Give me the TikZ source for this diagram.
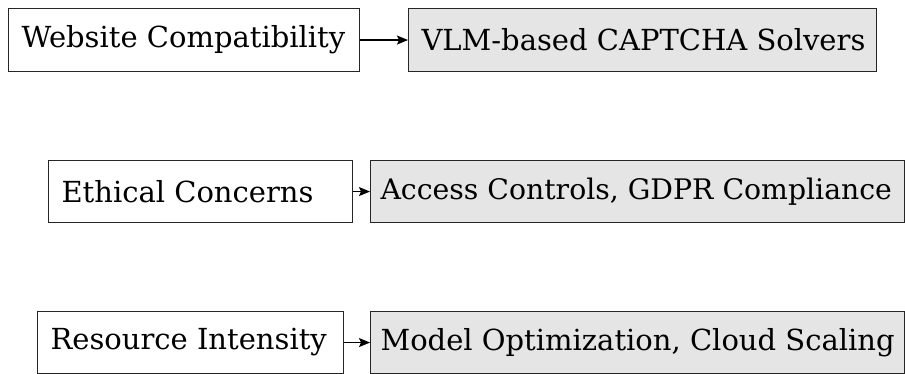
\documentclass[tikz,border=0pt]{standalone}
\usepackage{fontspec}
\setmainfont{DejaVu Serif}
\usetikzlibrary{arrows.meta}
% left-aligned label in a box of fixed width
\newcommand\flushlabel[2]{\makebox[#1][l]{#2}}
\begin{document}
\begin{tikzpicture}[x=1pt,y=-1pt,
  box/.style={draw=black!85, line width=1.1pt, rectangle, anchor=north west,
    inner ysep=0pt, inner xsep=13pt,
    font=\fontsize{29}{34}\selectfont},
  issue/.style={box, fill=white},
  fix/.style={box, fill=gray!20},
  link/.style={-{Stealth[length=11pt,width=9pt,inset=2pt]}, line width=1.3pt, black}]
\useasboundingbox (0,0) rectangle (905,374);
% challenge -> mitigation rows
\node[issue, minimum height=63pt] (c1) at (8,8) {\flushlabel{325pt}{Website Compatibility}};
\node[fix,   minimum height=63pt] (m1) at (408,8) {\flushlabel{442pt}{VLM-based CAPTCHA Solvers}};
\node[issue, minimum height=62pt] (c2) at (48,160) {\flushlabel{278pt}{Ethical Concerns}};
\node[fix,   minimum height=62pt, inner xsep=10pt] (m2) at (370,160)
  {\flushlabel{514pt}{\fontsize{28.3}{34}\selectfont Access Controls, GDPR Compliance}};
\node[issue, minimum height=62pt] (c3) at (37,311) {\flushlabel{280pt}{Resource Intensity}};
\node[fix,   minimum height=62pt, inner xsep=10pt] (m3) at (370,311) {\flushlabel{514pt}{Model Optimization, Cloud Scaling}};
\draw[link] (c1) -- (m1);
\draw[link] (c2) -- (m2);
\draw[link] (c3) -- (m3);
\end{tikzpicture}
\end{document}
